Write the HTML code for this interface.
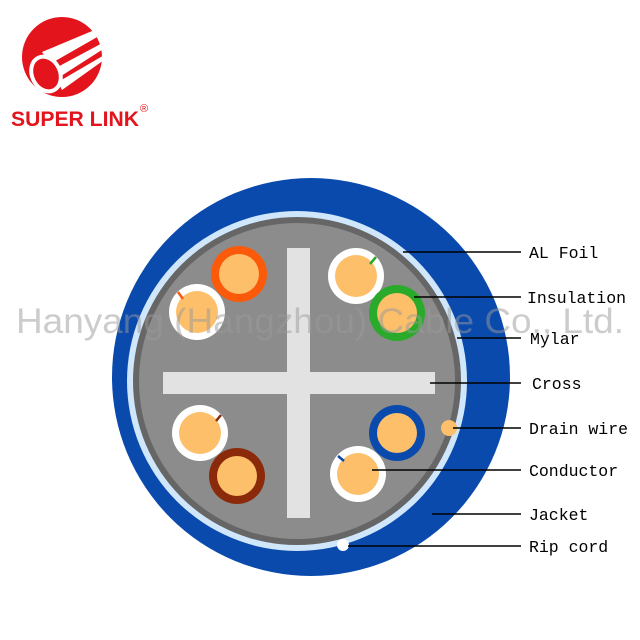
<!DOCTYPE html>
<html><head><meta charset="utf-8"><style>
body{margin:0;width:640px;height:640px;background:#fff;overflow:hidden}
svg{display:block}
</style></head><body>
<svg width="640" height="640" viewBox="0 0 640 640" xmlns="http://www.w3.org/2000/svg">
<!-- logo -->
<circle cx="62" cy="57" r="40" fill="#e3141c"/>
<g fill="#fff">
<polygon points="42,52 104,26 106,32 50,64"/>
<polygon points="52,70 108,40 108,46 58,78"/>
<polygon points="58,82 106,54 104,60 62,90"/>
</g>
<ellipse cx="46" cy="74" rx="14" ry="18" transform="rotate(-25 46 74)" fill="#e3141c" stroke="#fff" stroke-width="4"/>
<text x="11" y="126" font-family="Liberation Sans, sans-serif" font-weight="bold" font-size="21" fill="#e3141c" textLength="128" lengthAdjust="spacingAndGlyphs">SUPER LINK</text>
<text x="140" y="112" font-family="Liberation Sans, sans-serif" font-size="11" fill="#e3141c">®</text>
<!-- cable -->
<circle cx="311" cy="377" r="199" fill="#0a4aad"/>
<circle cx="297" cy="381" r="170" fill="#cfe6fb"/>
<circle cx="297" cy="381" r="164" fill="#666"/>
<circle cx="297" cy="381" r="158" fill="#8c8c8c"/>
<rect x="287" y="248" width="23" height="270" fill="#e2e2e2"/>
<rect x="163" y="372" width="272" height="22" fill="#e2e2e2"/>
<!-- pairs -->
<circle cx="239" cy="274" r="28" fill="#fa5a0a"/><circle cx="239" cy="274" r="20" fill="#fdbf6a"/>
<circle cx="197" cy="312" r="28" fill="#fff"/><circle cx="197" cy="312" r="21" fill="#fdbf6a"/>
<line x1="178" y1="292" x2="183" y2="299" stroke="#fa5a0a" stroke-width="2.5"/>
<circle cx="356" cy="276" r="28" fill="#fff"/><circle cx="356" cy="276" r="21" fill="#fdbf6a"/>
<line x1="376" y1="257" x2="370" y2="264" stroke="#2aaa2a" stroke-width="2.5"/>
<circle cx="397" cy="313" r="28" fill="#2aaa2a"/><circle cx="397" cy="313" r="20" fill="#fdbf6a"/>
<circle cx="200" cy="433" r="28" fill="#fff"/><circle cx="200" cy="433" r="21" fill="#fdbf6a"/>
<line x1="221" y1="415" x2="216" y2="421" stroke="#8a2a0a" stroke-width="2.5"/>
<circle cx="237" cy="476" r="28" fill="#8a2a0a"/><circle cx="237" cy="476" r="20" fill="#fdbf6a"/>
<circle cx="397" cy="433" r="28" fill="#0a4aad"/><circle cx="397" cy="433" r="20" fill="#fdbf6a"/>
<circle cx="358" cy="474" r="28" fill="#fff"/><circle cx="358" cy="474" r="21" fill="#fdbf6a"/>
<line x1="338" y1="456" x2="344" y2="461" stroke="#0a4aad" stroke-width="2.5"/>
<circle cx="449" cy="428" r="8" fill="#fdbf6a"/>
<circle cx="343" cy="545" r="6" fill="#fff"/>
<!-- leader lines -->
<g stroke="#000" stroke-width="1.6">
<line x1="403" y1="252" x2="521" y2="252"/>
<line x1="414" y1="297" x2="521" y2="297"/>
<line x1="457" y1="338" x2="521" y2="338"/>
<line x1="430" y1="383" x2="521" y2="383"/>
<line x1="453" y1="428" x2="521" y2="428"/>
<line x1="372" y1="470" x2="521" y2="470"/>
<line x1="432" y1="514" x2="521" y2="514"/>
<line x1="348" y1="546" x2="521" y2="546"/>
</g>
<g font-family="Liberation Mono, monospace" font-size="16.5" fill="#000">
<text x="529" y="258">AL Foil</text>
<text x="527" y="303">Insulation</text>
<text x="530" y="344">Mylar</text>
<text x="532" y="389">Cross</text>
<text x="529" y="434">Drain wire</text>
<text x="529" y="476">Conductor</text>
<text x="529" y="520">Jacket</text>
<text x="529" y="552">Rip cord</text>
</g>
<text x="16" y="333" font-family="Liberation Sans, sans-serif" font-size="35" fill="#9a9a9a" fill-opacity="0.5" textLength="608" lengthAdjust="spacingAndGlyphs">Hanyang (Hangzhou) Cable Co., Ltd.</text>
</svg>
</body></html>
